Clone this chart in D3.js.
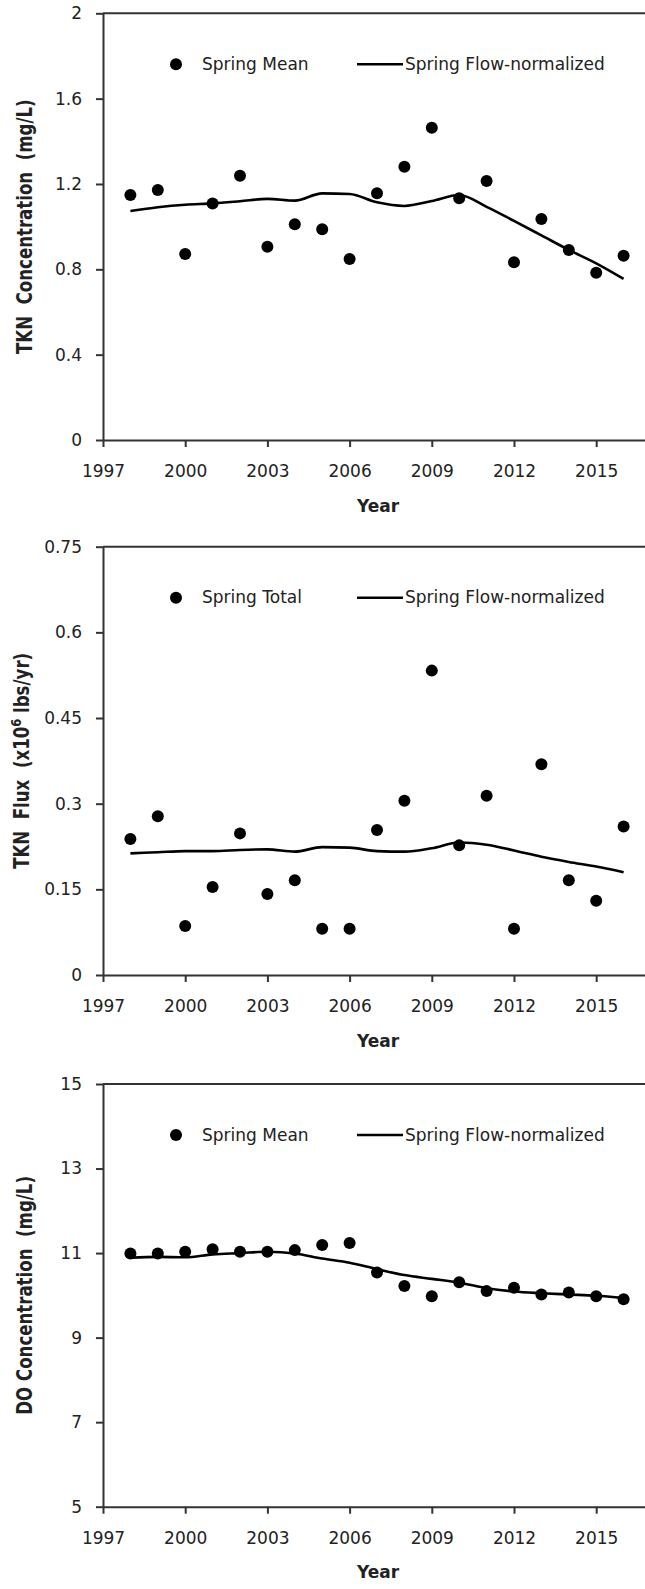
<!DOCTYPE html>
<html>
<head>
<meta charset="utf-8">
<script src="https://cdn.jsdelivr.net/npm/d3@7"></script>
<style>
  body { margin: 0; background: #fff; }
  svg { display: block; }
  text { white-space: pre; }
</style>
</head>
<body>
<script>
// ---- Data ----
const years = [1998, 1999, 2000, 2001, 2002, 2003, 2004, 2005, 2006, 2007, 2008, 2009, 2010, 2011, 2012, 2013, 2014, 2015, 2016];
const xTickLabels = [1997, 2000, 2003, 2006, 2009, 2012, 2015];

const tknMean = [1.148, 1.172, 0.872, 1.109, 1.239, 0.906, 1.011, 0.988, 0.848, 1.156, 1.281, 1.464, 1.133, 1.214, 0.833, 1.036, 0.891, 0.784, 0.864];
const tknConcFN = [1.073, 1.091, 1.103, 1.109, 1.119, 1.130, 1.122, 1.156, 1.153, 1.114, 1.097, 1.120, 1.148, 1.093, 1.027, 0.959, 0.891, 0.828, 0.755];
const tknConcTicks = [0, 0.4, 0.8, 1.2, 1.6, 2];

const tknTotal = [0.238, 0.278, 0.086, 0.154, 0.248, 0.142, 0.166, 0.081, 0.081, 0.254, 0.305, 0.533, 0.227, 0.314, 0.081, 0.369, 0.166, 0.130, 0.260];
const tknFluxFN = [0.213, 0.215, 0.217, 0.217, 0.219, 0.220, 0.216, 0.224, 0.223, 0.217, 0.216, 0.222, 0.232, 0.228, 0.218, 0.207, 0.198, 0.190, 0.180];
const tknFluxTicks = [0, 0.15, 0.3, 0.45, 0.6, 0.75];

const doMean = [10.99, 10.99, 11.03, 11.09, 11.03, 11.03, 11.07, 11.19, 11.24, 10.54, 10.22, 9.98, 10.31, 10.10, 10.18, 10.02, 10.07, 9.98, 9.91];
const doFN = [10.89, 10.91, 10.90, 10.97, 11.00, 11.03, 10.99, 10.87, 10.77, 10.62, 10.48, 10.39, 10.30, 10.17, 10.09, 10.05, 10.02, 9.99, 9.94];
const doTicks = [5, 7, 9, 11, 13, 15];

// ---- Drawing ----
const W = 645, H = 1589;
const svg = d3.select("body").append("svg").attr("width", W).attr("height", H);
const FONT = "'DejaVu Sans', sans-serif";
const INK = "#222";

function panel(opts) {
  const { top, bottom, ticks, mean, fn, pointLabel, title, titleX } = opts;
  const left = 103;
  const x = d3.scaleLinear().domain([1997, 2017]).range([left, 651]);
  const y = d3.scaleLinear().domain([ticks[0], ticks[ticks.length - 1]]).range([bottom, top]);
  const g = svg.append("g");

  // top border
  g.append("line").attr("x1", left).attr("x2", W).attr("y1", top).attr("y2", top)
    .attr("stroke", "#333").attr("stroke-width", 2);

  // y axis
  const ya = g.append("g").attr("transform", `translate(${left},0)`)
    .call(d3.axisLeft(y).tickValues(ticks).tickSize(7).tickSizeOuter(0).tickPadding(14)
      .tickFormat(d => String(d)));
  // x axis
  const xa = g.append("g").attr("transform", `translate(0,${bottom})`)
    .call(d3.axisBottom(x).tickValues(xTickLabels).tickSize(7).tickSizeOuter(0).tickPadding(18)
      .tickFormat(d => String(d)));
  [ya, xa].forEach(a => {
    a.selectAll("path.domain").attr("stroke", "#333").attr("stroke-width", 2);
    a.selectAll(".tick line").attr("stroke", "#333").attr("stroke-width", 2);
    a.selectAll(".tick text").attr("font-family", FONT).attr("font-size", 17).attr("fill", INK);
  });

  // flow-normalized line
  const line = d3.line().x((d, i) => x(years[i])).y(d => y(d)).curve(d3.curveMonotoneX);
  g.append("path").datum(fn).attr("d", line).attr("fill", "none")
    .attr("stroke", "#000").attr("stroke-width", 2.6);

  // points
  g.selectAll("circle.pt").data(mean).enter().append("circle").attr("class", "pt")
    .attr("cx", (d, i) => x(years[i])).attr("cy", d => y(d)).attr("r", 6).attr("fill", "#000");

  // legend
  const ly = top + 51;
  g.append("circle").attr("cx", 176).attr("cy", ly).attr("r", 6).attr("fill", "#000");
  g.append("text").attr("x", 202).attr("y", ly).attr("dy", "0.33em")
    .attr("font-family", FONT).attr("font-size", 17).attr("fill", INK).text(pointLabel);
  g.append("line").attr("x1", 357).attr("x2", 403).attr("y1", ly).attr("y2", ly)
    .attr("stroke", "#000").attr("stroke-width", 2.6);
  g.append("text").attr("x", 405).attr("y", ly).attr("dy", "0.33em")
    .attr("font-family", FONT).attr("font-size", 17).attr("fill", INK).text("Spring Flow-normalized");

  // x title
  g.append("text").attr("x", 378).attr("y", bottom + 71.5).attr("text-anchor", "middle")
    .attr("font-family", FONT).attr("font-size", 17).attr("font-weight", "bold").attr("fill", INK)
    .text("Year");

  // y title
  const cy = (top + bottom) / 2;
  const t = g.append("text")
    .attr("transform", `translate(${titleX},${cy}) scale(1.3,1) rotate(-90)`)
    .attr("text-anchor", "middle").attr("dy", "0.36em")
    .attr("font-family", FONT).attr("font-size", 16.6).attr("font-weight", "bold").attr("fill", INK);
  title(t);
}

panel({
  top: 13.3, bottom: 440, ticks: tknConcTicks, mean: tknMean, fn: tknConcFN,
  pointLabel: "Spring Mean", titleX: 24,
  title: t => t.text("TKN  Concentration  (mg/L)")
});

panel({
  top: 546.7, bottom: 975, ticks: tknFluxTicks, mean: tknTotal, fn: tknFluxFN,
  pointLabel: "Spring Total", titleX: 21,
  title: t => {
    t.append("tspan").text("TKN  Flux  (x10");
    t.append("tspan").attr("font-size", 11.5).attr("dy", "-0.55em").text("6");
    t.append("tspan").attr("dy", "0.38em").text(" lbs/yr)");
  }
});

panel({
  top: 1084, bottom: 1506.7, ticks: doTicks, mean: doMean, fn: doFN,
  pointLabel: "Spring Mean", titleX: 24,
  title: t => t.text("DO Concentration  (mg/L)")
});
</script>
</body>
</html>
